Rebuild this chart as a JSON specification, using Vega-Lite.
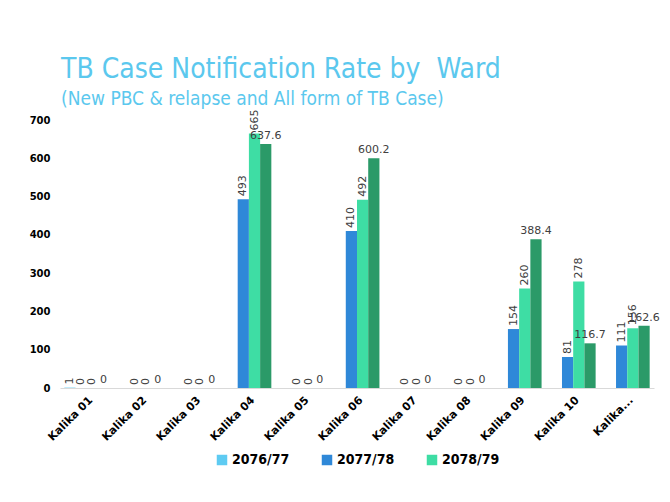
{
  "$schema": "https://vega.github.io/schema/vega-lite/v6.json",
  "width": 594,
  "height": 268,
  "autosize": "none",
  "padding": {"left": 60, "top": 120, "right": 16, "bottom": 114},
  "background": "white",
  "title": {
    "text": "TB Case Notification Rate by \u00a0Ward",
    "subtitle": "(New PBC & relapse and All form of TB Case)",
    "anchor": "start",
    "frame": "group",
    "dx": 1,
    "offset": 0,
    "font": "DejaVu Sans Condensed",
    "fontSize": 28,
    "fontWeight": "normal",
    "color": "#5BC8EE",
    "subtitleFont": "DejaVu Sans Condensed",
    "subtitleFontSize": 19,
    "subtitleColor": "#5BC8EE",
    "subtitlePadding": 6
  },
  "data": {
    "values": [
      {"ward": "Kalika 01", "year": "2076/77", "value": 1},
      {"ward": "Kalika 01", "year": "2077/78", "value": 0},
      {"ward": "Kalika 01", "year": "2078/79", "value": 0},
      {"ward": "Kalika 01", "year": "2079/80", "value": 0},
      {"ward": "Kalika 02", "year": "2077/78", "value": 0},
      {"ward": "Kalika 02", "year": "2078/79", "value": 0},
      {"ward": "Kalika 02", "year": "2079/80", "value": 0},
      {"ward": "Kalika 03", "year": "2077/78", "value": 0},
      {"ward": "Kalika 03", "year": "2078/79", "value": 0},
      {"ward": "Kalika 03", "year": "2079/80", "value": 0},
      {"ward": "Kalika 04", "year": "2077/78", "value": 493},
      {"ward": "Kalika 04", "year": "2078/79", "value": 665},
      {"ward": "Kalika 04", "year": "2079/80", "value": 637.6},
      {"ward": "Kalika 05", "year": "2077/78", "value": 0},
      {"ward": "Kalika 05", "year": "2078/79", "value": 0},
      {"ward": "Kalika 05", "year": "2079/80", "value": 0},
      {"ward": "Kalika 06", "year": "2077/78", "value": 410},
      {"ward": "Kalika 06", "year": "2078/79", "value": 492},
      {"ward": "Kalika 06", "year": "2079/80", "value": 600.2},
      {"ward": "Kalika 07", "year": "2077/78", "value": 0},
      {"ward": "Kalika 07", "year": "2078/79", "value": 0},
      {"ward": "Kalika 07", "year": "2079/80", "value": 0},
      {"ward": "Kalika 08", "year": "2077/78", "value": 0},
      {"ward": "Kalika 08", "year": "2078/79", "value": 0},
      {"ward": "Kalika 08", "year": "2079/80", "value": 0},
      {"ward": "Kalika 09", "year": "2077/78", "value": 154},
      {"ward": "Kalika 09", "year": "2078/79", "value": 260},
      {"ward": "Kalika 09", "year": "2079/80", "value": 388.4},
      {"ward": "Kalika 10", "year": "2077/78", "value": 81},
      {"ward": "Kalika 10", "year": "2078/79", "value": 278},
      {"ward": "Kalika 10", "year": "2079/80", "value": 116.7},
      {"ward": "Kalika 11", "year": "2077/78", "value": 111},
      {"ward": "Kalika 11", "year": "2078/79", "value": 156},
      {"ward": "Kalika 11", "year": "2079/80", "value": 162.6}
    ]
  },
  "encoding": {
    "x": {
      "field": "ward", "type": "nominal", "title": null,
      "scale": {"paddingInner": 0.17, "paddingOuter": 0.08},
      "axis": {
        "labelAngle": -45, "labelAlign": "right", "labelBaseline": "top",
        "labelFont": "DejaVu Sans", "labelFontSize": 11, "labelFontWeight": "bold",
        "labelColor": "#000000", "ticks": false, "domainColor": "#d9d9d9",
        "labelPadding": 6,
        "labelExpr": "datum.label == 'Kalika 11' ? 'Kalika...' : datum.label"
      }
    },
    "xOffset": {"field": "year", "type": "nominal", "scale": {"domain": ["2076/77", "2077/78", "2078/79", "2079/80"], "paddingInner": 0}},
    "y": {
      "field": "value", "type": "quantitative", "title": null,
      "scale": {"domain": [0, 700]},
      "axis": {
        "values": [0, 100, 200, 300, 400, 500, 600, 700],
        "grid": false, "domain": false, "ticks": false,
        "labelFont": "DejaVu Sans", "labelFontSize": 10, "labelFontWeight": "bold",
        "labelColor": "#000000", "labelPadding": 10
      }
    }
  },
  "layer": [
    {
      "mark": {"type": "bar"},
      "encoding": {
        "color": {
          "field": "year", "type": "nominal", "title": null,
          "scale": {"domain": ["2076/77", "2077/78", "2078/79", "2079/80"], "range": ["#5ECBF2", "#2F88D8", "#3EDDA4", "#2B9A68"]},
          "legend": {
            "values": ["2076/77", "2077/78", "2078/79"],
            "orient": "bottom", "direction": "horizontal", "symbolType": "square",
            "symbolSize": 110, "labelFont": "DejaVu Sans Condensed", "labelFontSize": 14,
            "labelFontWeight": "bold", "labelColor": "#000000", "columnPadding": 30,
            "labelOffset": 3,
            "symbolStrokeWidth": 0, "offset": 10
          }
        }
      }
    },
    {
      "transform": [{"filter": "datum.year != '2079/80'"}],
      "mark": {"type": "text", "angle": 270, "align": "left", "baseline": "middle", "dx": 3, "font": "DejaVu Sans", "fontSize": 11, "color": "#404040"},
      "encoding": {"text": {"field": "value", "type": "quantitative"}}
    },
    {
      "transform": [{"filter": "datum.year == '2079/80'"}],
      "mark": {"type": "text", "align": "center", "baseline": "bottom", "dy": -3, "font": "DejaVu Sans", "fontSize": 11, "color": "#404040"},
      "encoding": {"text": {"field": "value", "type": "quantitative"}}
    }
  ],
  "config": {
    "view": {"stroke": null},
    "legend": {"layout": {"bottom": {"anchor": "middle"}}}
  }
}
